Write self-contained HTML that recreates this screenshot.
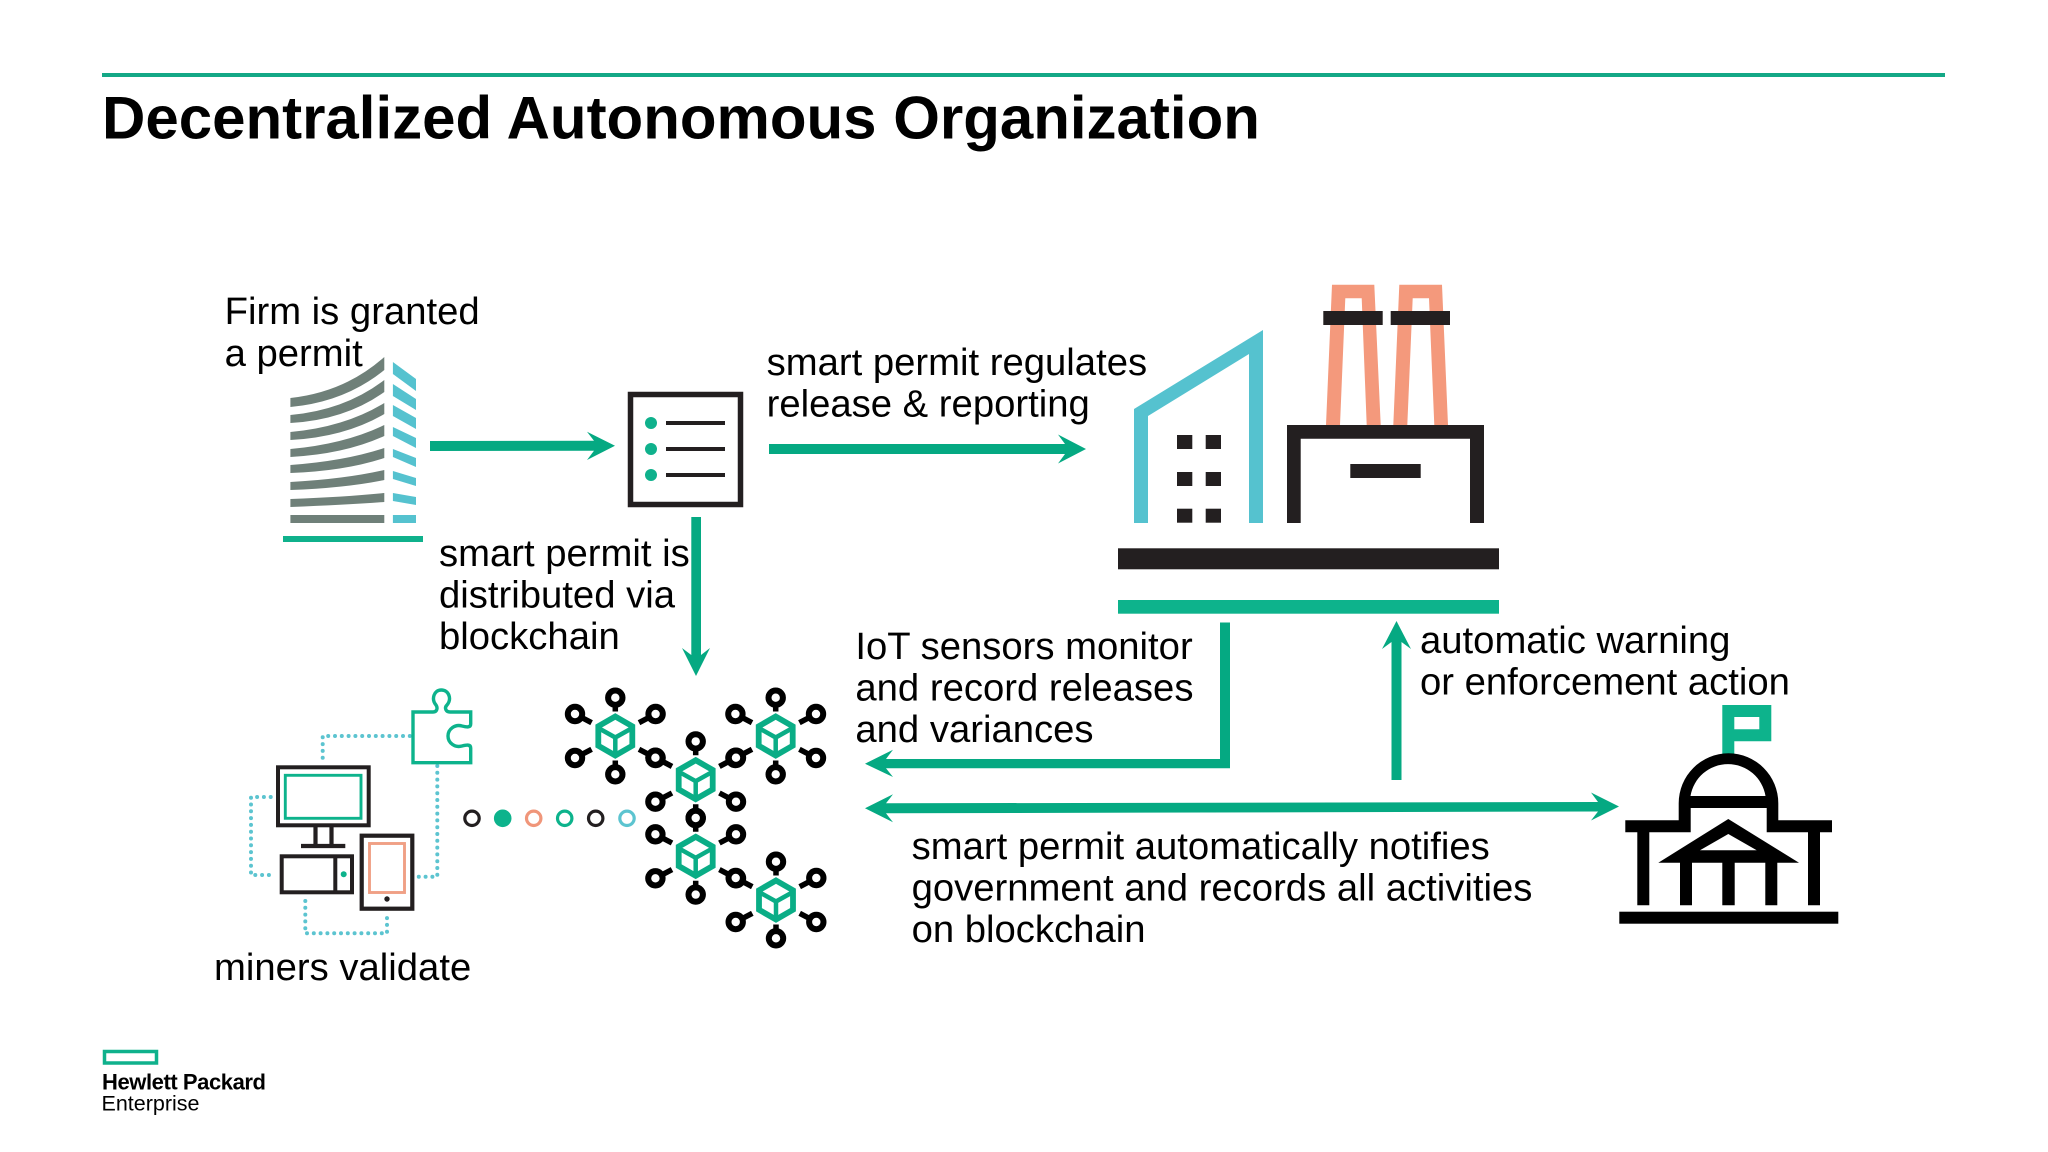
<!DOCTYPE html>
<html lang="en"><head><meta charset="utf-8"><title>Decentralized Autonomous Organization</title>
<style>html,body{margin:0;padding:0;background:#fff}svg{display:block}
text{font-family:"Liberation Sans",sans-serif;fill:#000}
.t{font-size:38.25px}</style></head><body>
<svg xmlns="http://www.w3.org/2000/svg" width="2048" height="1152" viewBox="0 0 2048 1152">
<defs>
<g id="hex"><polygon points="0,-19.5 17,-9.75 17,9.75 0,19.5 -17,9.75 -17,-9.75" fill="#fff" stroke="#0aad86" stroke-width="5.8"/>
<path d="M-17 -8L0 1.5L17 -8M0 1.5V19.5" fill="none" stroke="#0aad86" stroke-width="4.5"/></g>
<g id="sticks" stroke="#000" stroke-width="5.5" fill="none"><path d="M0 -38.3V-24.5M0 38.3V24.5M-40.3 -22L-23.7 -13.3M40.3 -22L23.7 -13.3M-40.3 22L-23.7 13.3M40.3 22L23.7 13.3"/></g>
<g id="rings" fill="#fff" stroke="#000" stroke-width="6"><circle cx="0" cy="-38.3" r="7.2"/><circle cx="0" cy="38.3" r="7.2"/><circle cx="-40.3" cy="-22" r="7.2"/><circle cx="40.3" cy="-22" r="7.2"/><circle cx="-40.3" cy="22" r="7.2"/><circle cx="40.3" cy="22" r="7.2"/></g>
</defs>
<rect width="2048" height="1152" fill="#fff"/>
<rect x="102" y="73" width="1843" height="4" fill="#14a886"/>
<text x="102" y="138.5" font-size="60" font-weight="700">Decentralized Autonomous Organization</text>

<!-- building -->
<g fill="#6f8079">
<path d="M290.4 398Q345 392 384.3 357V370Q345 402 290.4 407Z"/>
<path d="M290.4 415Q345 410 384.3 380V392Q345 420 290.4 423Z"/>
<path d="M290.4 432Q345 427 384.3 403V414Q345 437 290.4 440Z"/>
<path d="M290.4 449Q345 444 384.3 425V436Q345 454 290.4 457Z"/>
<path d="M290.4 465Q345 461 384.3 448V458Q345 471 290.4 473Z"/>
<path d="M290.4 482Q345 479 384.3 470V480Q345 488 290.4 490Z"/>
<path d="M290.4 499Q345 497 384.3 493V502Q345 505 290.4 507Z"/>
<rect x="290.4" y="515" width="93.9" height="8"/>
</g>
<g fill="#55c2cf">
<polygon points="392.9,362 416,379 416,391 392.9,374"/>
<polygon points="392.9,384 416,399 416,410 392.9,396"/>
<polygon points="392.9,405 416,418 416,429 392.9,416"/>
<polygon points="392.9,427 416,438 416,448 392.9,436"/>
<polygon points="392.9,449 416,458 416,467 392.9,457"/>
<polygon points="392.9,471 416,478 416,486 392.9,479"/>
<polygon points="392.9,493 416,497 416,505 392.9,501"/>
<rect x="392.9" y="515" width="23.1" height="8"/>
</g>
<rect x="283" y="536" width="140" height="6" fill="#0fb18c"/>
<text class="t" x="224.6" y="324">Firm is granted</text>
<text class="t" x="224.6" y="366">a permit</text>

<!-- doc -->
<rect x="630.5" y="394.5" width="110" height="110" fill="#fff" stroke="#231f20" stroke-width="5.5"/>
<g fill="#0fb18c"><circle cx="651" cy="423" r="6"/><circle cx="651" cy="449" r="6"/><circle cx="651" cy="475" r="6"/></g>
<g fill="#231f20"><rect x="666" y="421" width="59" height="4"/><rect x="666" y="447" width="59" height="4"/><rect x="666" y="473" width="59" height="4"/></g>

<!-- arrows -->
<g fill="#05a982">
<polygon points="430,441 594,440.7 587,431.7 615,445.7 587,460 594,450.7 430,451"/>
<polygon points="769,444 1065,444 1058,434.5 1086,449 1058,463.5 1065,454 769,454"/>
<polygon points="691.3,517 701,517 701,655 710,648 696,676 682,648 691.3,655"/>
<polygon points="1220,622.5 1230,622.5 1230,768.3 886,768.3 893,777 865,763.7 893,749.7 886,759 1220,759"/>
<polygon points="1391.5,780 1401.5,780 1401.5,642 1411,649 1396.5,621 1382,649 1391.5,642"/>
<polygon points="865,808.3 893,794.3 886,803.3 1598,802 1591,792.5 1619,806.5 1591,820.5 1598,811.5 886,813.3 893,822.3"/>
</g>

<text class="t" x="766.6" y="375">smart permit regulates</text>
<text class="t" x="766.6" y="416.5">release &amp; reporting</text>
<text class="t" x="439" y="566">smart permit is</text>
<text class="t" x="439" y="607.5">distributed via</text>
<text class="t" x="439" y="649">blockchain</text>
<text class="t" x="855.4" y="659">IoT sensors monitor</text>
<text class="t" x="855.4" y="700.5">and record releases</text>
<text class="t" x="855.4" y="742">and variances</text>
<text class="t" x="1420" y="653">automatic warning</text>
<text class="t" x="1420" y="694.5">or enforcement action</text>
<text class="t" x="911.6" y="859">smart permit automatically notifies</text>
<text class="t" x="911.6" y="900.5">government and records all activities</text>
<text class="t" x="911.6" y="942">on blockchain</text>
<text class="t" x="214" y="980">miners validate</text>

<!-- factory -->
<polygon fill="#55c2cf" points="1134,523 1134,409 1263,330 1263,523 1249,523 1249,354 1148,416 1148,523"/>
<g fill="#231f20">
<rect x="1177" y="435" width="15.3" height="14"/><rect x="1205.7" y="435" width="15.3" height="14"/>
<rect x="1177" y="472" width="15.3" height="14"/><rect x="1205.7" y="472" width="15.3" height="14"/>
<rect x="1177" y="508.7" width="15.3" height="14"/><rect x="1205.7" y="508.7" width="15.3" height="14"/>
</g>
<g fill="#f4997c">
<path fill-rule="evenodd" d="M1332 284.7H1374.3L1380.7 425H1326ZM1345.3 298.3L1340 425H1366.7L1361.7 298.3Z"/>
<path fill-rule="evenodd" d="M1399.3 284.7H1442L1448 425H1393.3ZM1412.7 298.3L1407.3 425H1434.3L1429 298.3Z"/>
</g>
<g fill="#231f20">
<rect x="1323.3" y="311" width="59.4" height="14"/><rect x="1390.7" y="311" width="59.3" height="14"/>
<path d="M1287 523V425H1484V523H1470V438.7H1300.7V523Z"/>
<rect x="1350.3" y="464" width="70.4" height="14"/>
<rect x="1118" y="548.3" width="381" height="21"/>
</g>
<rect x="1118" y="600" width="381" height="13.7" fill="#0db38c"/>

<!-- government -->
<path fill="#0db38c" fill-rule="evenodd" d="M1722.3 705H1771.3V741.3H1734.3V755H1722.3ZM1734.3 717V729.3H1759.3V717Z"/>
<g fill="#000">
<path fill-rule="evenodd" d="M1678.7 803.3A49.8 50 0 0 1 1778.3 803.3V820.3H1832V832.3H1820V905.3H1808V832.3H1766.7V808H1690.7V832.3H1649.3V905.3H1637.3V832.3H1625.3V820.3H1678.7ZM1691.5 796H1765.5A38 38 0 0 0 1690.5 796Z"/>
<path fill-rule="evenodd" d="M1728.3 819L1799 862.7H1777.3V905.3H1765.3V862.7H1734.7V905.3H1722.3V862.7H1692V905.3H1680V862.7H1658.3ZM1728.3 834L1700 850.3H1756.7Z"/>
<rect x="1619.3" y="911.7" width="219" height="12"/>
</g>

<!-- miners -->
<g fill="none" stroke="#5cc4d0" stroke-width="4" stroke-linecap="round" stroke-dasharray="0 6.8">
<path d="M322.7 757.7V736H410"/>
<path d="M437.3 766V876.7H418"/>
<path d="M270.7 797H251V875H275"/>
<path d="M305.3 901V933.3H387V914"/>
</g>
<path fill="none" stroke="#0db38c" stroke-width="3.4" d="M413 762.7V712H433C437 712 438 708 436 705C431 699 434 690 441.3 690C449 690 452 699 447 705C444 708 446 712 450 712H470.7V724C470.7 728 466 727 462 726C455 724 448 729 448 736C448 743 455 748 462 746C466 745 470.7 744 470.7 748V762.7Z"/>
<g fill="none" stroke="#231f20" stroke-width="4">
<rect x="278" y="767.3" width="90.7" height="58"/>
<path d="M315.5 826V845M331.5 826V845M301 846H345.3" stroke-width="4.2"/>
<rect x="281.7" y="856.3" width="70.3" height="36"/>
<path d="M335.3 856V893"/>
<rect x="361.7" y="835.7" width="50.6" height="73" stroke-width="4.2"/>
</g>
<rect x="285.3" y="775.3" width="75.7" height="43" fill="none" stroke="#0db38c" stroke-width="2.9"/>
<rect x="369.5" y="843.5" width="35" height="49" fill="none" stroke="#f0a085" stroke-width="2.9"/>
<circle cx="343.7" cy="874.3" r="3" fill="#0db38c"/>
<circle cx="387" cy="899" r="2.7" fill="#231f20"/>

<!-- dots -->
<g fill="none" stroke-width="3.2">
<circle cx="472" cy="818.3" r="7.2" stroke="#231f20"/>
<circle cx="502.7" cy="818.3" r="7.2" stroke="#0db38c" fill="#0db38c"/>
<circle cx="533.7" cy="818.3" r="7.2" stroke="#f0967a"/>
<circle cx="564.7" cy="818.3" r="7.2" stroke="#0db38c"/>
<circle cx="595.7" cy="818.3" r="7.2" stroke="#231f20"/>
<circle cx="627" cy="818.3" r="7.2" stroke="#5cc4d0"/>
</g>

<!-- network -->
<use href="#sticks" x="615.3" y="736"/><use href="#sticks" x="775.7" y="736"/><use href="#sticks" x="695.7" y="779.7"/><use href="#sticks" x="695.7" y="856.3"/><use href="#sticks" x="776" y="900"/>
<use href="#rings" x="615.3" y="736"/><use href="#rings" x="775.7" y="736"/><use href="#rings" x="695.7" y="779.7"/><use href="#rings" x="695.7" y="856.3"/><use href="#rings" x="776" y="900"/>
<use href="#hex" x="615.3" y="736"/><use href="#hex" x="775.7" y="736"/><use href="#hex" x="695.7" y="779.7"/><use href="#hex" x="695.7" y="856.3"/><use href="#hex" x="776" y="900"/>

<!-- logo -->
<rect x="104.5" y="1051.5" width="52" height="11.5" fill="none" stroke="#0fb18c" stroke-width="3.5"/>
<text x="102" y="1089.5" font-size="22" font-weight="700" textLength="164">Hewlett Packard</text>
<text x="101.5" y="1110.5" font-size="21.5" textLength="98">Enterprise</text>
</svg>
</body></html>
